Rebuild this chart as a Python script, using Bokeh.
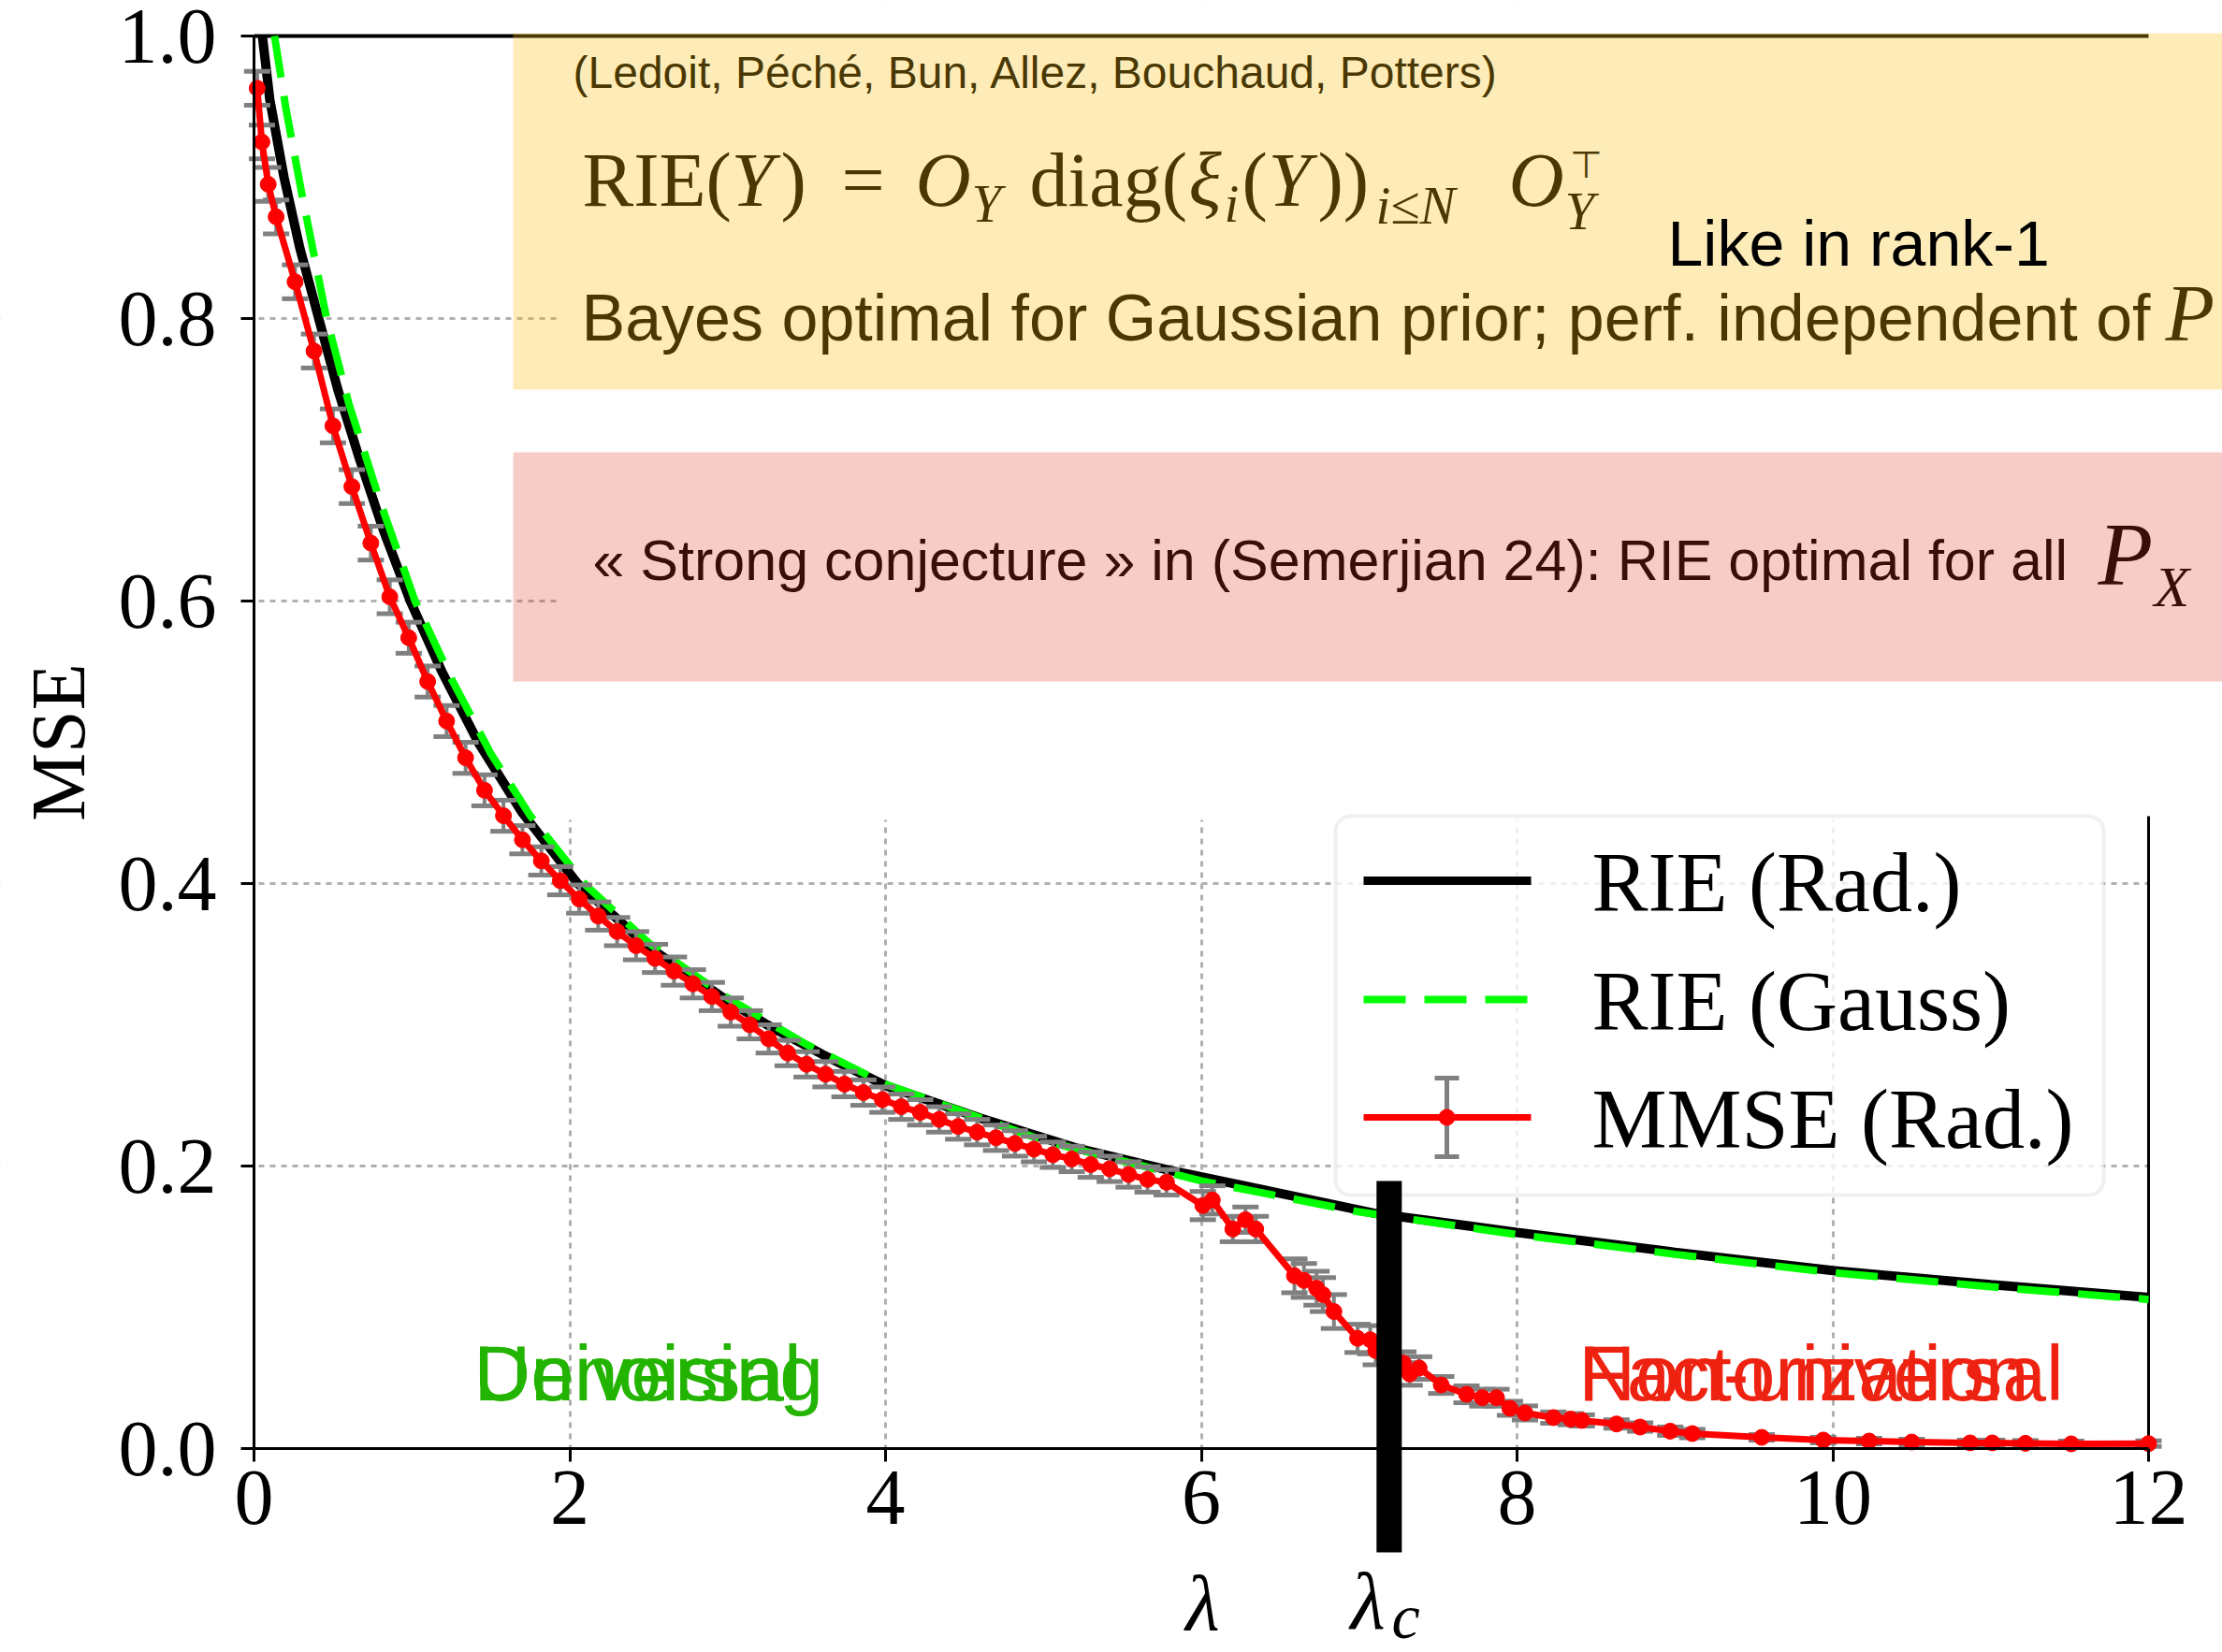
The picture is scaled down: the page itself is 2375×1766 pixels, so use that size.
from bokeh.plotting import figure
from bokeh.models import Range1d, FixedTicker, NumeralTickFormatter, BoxAnnotation
from bokeh.core.properties import value
from bokeh.embed import file_html
from bokeh.resources import INLINE

# ---------------- data ----------------
rie_rad_lam = [0.053, 0.1, 0.19, 0.29, 0.41, 0.53, 0.67, 0.82, 0.99, 1.19, 1.42, 1.70,
               2.05, 2.5, 3.0, 3.25, 3.6, 4.0, 4.6, 5.2, 5.8, 6.4, 7.1, 8.0, 9.0, 10.0, 11.0, 12.0]
rie_rad_mse = [1.0, 0.955, 0.90, 0.85, 0.80, 0.75, 0.70, 0.65, 0.60, 0.55, 0.50, 0.45,
               0.40, 0.355, 0.317, 0.300, 0.279, 0.257, 0.234, 0.213, 0.197, 0.183, 0.1665, 0.153,
               0.139, 0.126, 0.116, 0.107]

rie_gauss_lam = [0.13, 0.2, 0.3, 0.46, 0.6, 0.8, 1.02, 1.25, 1.5, 1.75, 2.1, 2.5, 3.0, 3.5,
                 4.0, 5.0, 6.0, 7.0, 8.0, 9.0, 10.0, 11.0, 12.0]
rie_gauss_mse = [1.0, 0.95, 0.89, 0.80, 0.74, 0.67, 0.60, 0.545, 0.492, 0.448, 0.399, 0.358,
                 0.319, 0.286, 0.258, 0.218, 0.1895, 0.1675, 0.1515, 0.1375, 0.1245, 0.1145, 0.1055]

mmse_lam = [0.02, 0.05, 0.09, 0.14, 0.26, 0.38, 0.50, 0.62, 0.74, 0.86, 0.98, 1.10, 1.22, 1.34,
            1.46, 1.58, 1.70, 1.82, 1.94, 2.06, 2.18, 2.30, 2.42, 2.54, 2.66, 2.78, 2.90, 3.02,
            3.14, 3.26, 3.38, 3.50, 3.62, 3.74, 3.86, 3.98, 4.10, 4.22, 4.34, 4.46, 4.58, 4.70,
            4.82, 4.94, 5.06, 5.18, 5.30, 5.42, 5.54, 5.66, 5.78,
            6.01, 6.07, 6.20, 6.28, 6.345, 6.59, 6.65, 6.73, 6.77, 6.84, 6.99, 7.07, 7.105, 7.28,
            7.32, 7.38, 7.52, 7.68, 7.78, 7.87, 7.955, 8.05, 8.23, 8.34, 8.41, 8.63, 8.78, 8.97,
            9.11, 9.55, 9.94, 10.23, 10.50, 10.87, 11.01, 11.22, 11.51, 12.0]
mmse_val = [0.963, 0.925, 0.895, 0.872, 0.826, 0.777, 0.724, 0.681, 0.641, 0.603, 0.574, 0.543,
            0.515, 0.489, 0.466, 0.448, 0.431, 0.416, 0.402, 0.389, 0.377, 0.366, 0.356, 0.347,
            0.338, 0.329, 0.320, 0.309, 0.300, 0.290, 0.280, 0.272, 0.265, 0.258, 0.252, 0.247,
            0.242, 0.238, 0.233, 0.228, 0.224, 0.220, 0.216, 0.212, 0.208, 0.205, 0.201, 0.198,
            0.194, 0.1905, 0.1885,
            0.172, 0.176, 0.1554, 0.162, 0.1554, 0.1223, 0.119, 0.1135, 0.109, 0.097, 0.078,
            0.077, 0.0693, 0.0605, 0.0528, 0.057, 0.045, 0.0384, 0.036, 0.036, 0.0285, 0.0252,
            0.0219, 0.0208, 0.0199, 0.0174, 0.0152, 0.0123, 0.0106, 0.0079, 0.006, 0.0053,
            0.0046, 0.004, 0.004, 0.0037, 0.0033, 0.0035]
mmse_err = [0.012, 0.012, 0.012, 0.012, 0.012, 0.012, 0.012, 0.012, 0.012, 0.012, 0.011, 0.011,
            0.011, 0.011, 0.011, 0.011, 0.010, 0.010, 0.010, 0.010, 0.010, 0.010, 0.010, 0.010,
            0.010, 0.010, 0.010, 0.010, 0.010, 0.010, 0.009, 0.009, 0.009, 0.009, 0.009, 0.009,
            0.009, 0.009, 0.009, 0.009, 0.009, 0.009, 0.009, 0.009, 0.009, 0.009, 0.009, 0.009,
            0.009, 0.009, 0.009,
            0.010, 0.010, 0.009, 0.009, 0.009, 0.012, 0.012, 0.012, 0.012, 0.012, 0.010, 0.010,
            0.010, 0.008, 0.008, 0.008, 0.006, 0.006, 0.006, 0.006, 0.005, 0.005, 0.004, 0.004,
            0.004, 0.003, 0.003, 0.003, 0.003, 0.002, 0.002, 0.002, 0.002, 0.002, 0.002, 0.002,
            0.002, 0.002]

x_ticks = [0, 2, 4, 6, 8, 10, 12]
y_ticks = [0.0, 0.2, 0.4, 0.6, 0.8, 1.0]
x_grid = [2, 4, 6, 8, 10]
y_grid = [0.2, 0.4, 0.6, 0.8]
LAMBDA_C = 7.19
legend_labels = ["RIE (Rad.)", "RIE (Gauss)", "MMSE (Rad.)"]

# ---------------- layout (pixels of the 2375x1766 canvas) ----------------
W, H = 2375, 1766
AXX_PX, AXY_PX = 271, 1548     # pixel column of lambda = 0, pixel row of MSE = 0
PX_PER_X, PX_PER_Y = 168.75, 1510.0


def X(px):
    return (px - AXX_PX) / PX_PER_X


def Y(py):
    return (AXY_PX - py) / PX_PER_Y


X_END = X(W)
SERIF = "Liberation Serif"
SANS = "Liberation Sans"

# the frame covers the whole canvas; axes are pinned at lambda = 0 and MSE = 0
p = figure(width=W, height=H, output_backend="svg", toolbar_location=None,
           x_range=Range1d(X(0), X_END), y_range=Range1d(Y(H), Y(0)),
           min_border_left=0, min_border_right=0, min_border_top=0, min_border_bottom=0)
p.outline_line_color = None
p.background_fill_color = "white"
p.border_fill_color = "white"

# axes
p.xaxis.fixed_location = 0
p.yaxis.fixed_location = 0
p.xaxis.ticker = FixedTicker(ticks=x_ticks)
p.xaxis.bounds = (0, 12)
p.xaxis.formatter = NumeralTickFormatter(format="0")
p.yaxis.ticker = FixedTicker(ticks=y_ticks)
p.yaxis.bounds = (0, 1)
p.yaxis.formatter = NumeralTickFormatter(format="0.0")
for ax in (p.xaxis, p.yaxis):
    ax.axis_line_width = 3
    ax.axis_line_color = "black"
    ax.major_tick_out = 14
    ax.major_tick_in = 0
    ax.major_tick_line_width = 3
    ax.major_tick_line_color = "black"
    ax.minor_tick_out = 0
    ax.minor_tick_in = 0
    ax.major_label_text_font = SERIF
    ax.major_label_text_font_size = "84px"
    ax.major_label_text_color = "black"
p.xaxis.major_label_standoff = 10
p.yaxis.major_label_standoff = 26
p.yaxis.axis_label = "MSE"
p.yaxis.axis_label_text_font = SERIF
p.yaxis.axis_label_text_font_style = "normal"
p.yaxis.axis_label_text_font_size = "82px"
p.yaxis.axis_label_text_color = "black"
p.yaxis.axis_label_standoff = 16

# grid
p.xgrid.ticker = FixedTicker(ticks=x_grid)
p.ygrid.ticker = FixedTicker(ticks=y_grid)
for g in (p.xgrid, p.ygrid):
    g.grid_line_color = "#b0b0b0"
    g.grid_line_dash = "6 6"
    g.grid_line_width = 3

# white masks: slide background over the upper right, and everything outside the axes box
p.quad(left=[X(596), 12, X(-20), X(-20)],
       right=[X(W + 20), X(W + 20), X(W + 20), X(269)],
       bottom=[Y(876), Y(H + 20), Y(H + 20), Y(H + 20)],
       top=[Y(-20), Y(876), Y(1551), Y(-20)],
       fill_color="white", line_color=None)

# spines
p.segment(x0=[0], y0=[1.0], x1=[12], y1=[1.0], line_color="black", line_width=4)
p.segment(x0=[12], y0=[0], x1=[12], y1=[Y(872)], line_color="black", line_width=3)

# curves
p.line(rie_rad_lam, rie_rad_mse, line_color="black", line_width=10)
p.line(rie_gauss_lam, rie_gauss_mse, line_color="#00ff00", line_width=8, line_dash="45 20")
lo = [v - e for v, e in zip(mmse_val, mmse_err)]
hi = [v + e for v, e in zip(mmse_val, mmse_err)]
p.segment(x0=mmse_lam, y0=lo, x1=mmse_lam, y1=hi, line_color="#808080", line_width=4)
p.scatter(mmse_lam, lo, marker="dash", size=28, line_color="#808080", line_width=5)
p.scatter(mmse_lam, hi, marker="dash", size=28, line_color="#808080", line_width=5)
p.line(mmse_lam, mmse_val, line_color="#ff0000", line_width=7)
p.scatter(mmse_lam, mmse_val, size=17, fill_color="#ff0000", line_color="#ff0000")


def put_text(txt, left, base, size, font=SANS, style="normal", color="black",
             level="glyph", align="left"):
    # base = pixel row of the text baseline in the canvas
    p.text(x=[X(left)], y=[Y(base - 0.35 * size)], text=[txt], text_font=value(font),
           text_font_size=f"{size}px", text_font_style=style, text_color=color,
           text_baseline="alphabetic", text_align=align, level=level)


# region labels
for word in ["Denoising", "Universal"]:
    put_text(word, 506, 1497, 84, color="#22b400")
for word in ["Factorization", "Non-universal"]:
    put_text(word, 1687, 1497, 84, color="#ee2211")

# slide texts (drawn black, tinted by the translucent boxes above them)
put_text("(Ledoit, Péché, Bun, Allez, Bouchaud, Potters)", 612, 94, 48)
formula = [("RIE(", 622, 221, 82, "normal"), ("Y", 781, 221, 82, "italic"),
           (")", 834, 221, 82, "normal"), ("=", 899, 221, 82, "normal"),
           ("O", 978, 221, 82, "italic"), ("Y", 1038, 237, 57, "italic"),
           ("diag(", 1100, 221, 82, "normal"), ("ξ", 1270, 221, 82, "italic"),
           ("i", 1308, 237, 57, "italic"), ("(", 1327, 221, 82, "normal"),
           ("Y", 1355, 221, 82, "italic"), ("))", 1408, 221, 82, "normal"),
           ("i≤N", 1470, 239, 57, "italic"), ("O", 1612, 221, 82, "italic"),
           ("⊤", 1677, 190, 40, "normal"), ("Y", 1672, 245, 57, "italic")]
for txt, left, base, size, style in formula:
    put_text(txt, left, base, size, font=SERIF, style=style)
put_text("Bayes optimal for Gaussian prior; perf. independent of", 621, 364, 70)
put_text("P", 2314, 365, 86, font=SERIF, style="italic")
put_text("« Strong  conjecture » in (Semerjian 24): RIE optimal for all", 633, 620, 61)
put_text("P", 2242, 626, 96, font=SERIF, style="italic")
put_text("X", 2302, 648, 62, font=SERIF, style="italic")

# translucent slide boxes
p.add_layout(BoxAnnotation(left=X(548), right=X_END, top=Y(35), bottom=Y(416),
                           fill_color="#fcbe0e", fill_alpha=0.294, line_color=None))
p.add_layout(BoxAnnotation(left=X(548), right=X_END, top=Y(483), bottom=Y(728),
                           fill_color="#e3371f", fill_alpha=0.255, line_color=None))
put_text("Like in rank-1", 1782, 283, 68, level="overlay")

# legend (drawn by hand)
p.add_layout(BoxAnnotation(left=X(1427), right=X(2248), top=Y(872), bottom=Y(1277),
                           fill_color="white", fill_alpha=0.8, line_color="#cccccc",
                           line_width=4, border_radius=16))
rows = [941, 1068, 1194]
hx0, hx1, hxc = X(1457), X(1636), X(1546)
p.line([hx0, hx1], [Y(rows[0])] * 2, line_color="black", line_width=9, level="overlay")
p.line([hx0, hx1], [Y(rows[1])] * 2, line_color="#00ff00", line_width=8, line_dash="45 20",
       level="overlay")
p.segment(x0=[hxc], y0=[Y(rows[2] + 42)], x1=[hxc], y1=[Y(rows[2] - 42)],
          line_color="#808080", line_width=5, level="overlay")
p.scatter([hxc, hxc], [Y(rows[2] + 42), Y(rows[2] - 42)], marker="dash", size=26,
          line_color="#808080", line_width=5, level="overlay")
p.line([hx0, hx1], [Y(rows[2])] * 2, line_color="#ff0000", line_width=7, level="overlay")
p.scatter([hxc], [Y(rows[2])], size=17, fill_color="#ff0000", line_color="#ff0000",
          level="overlay")
for txt, r in zip(legend_labels, rows):
    put_text(txt, 1701, r + 33, 90, font=SERIF, level="overlay")

# lambda_c marker and the lambda labels under the axis
p.quad(left=[LAMBDA_C - 0.08], right=[LAMBDA_C + 0.08], top=[Y(1262)], bottom=[Y(1659)],
       fill_color="black", line_color=None, level="overlay")
put_text("λ", 1285, 1742, 84, font=SERIF, style="italic", align="center", level="overlay")
put_text("λ", 1443, 1742, 86, font=SERIF, style="italic", level="overlay")
put_text("c", 1487, 1751, 68, font=SERIF, style="italic", level="overlay")

open("out.html", "w").write(file_html(p, INLINE))
